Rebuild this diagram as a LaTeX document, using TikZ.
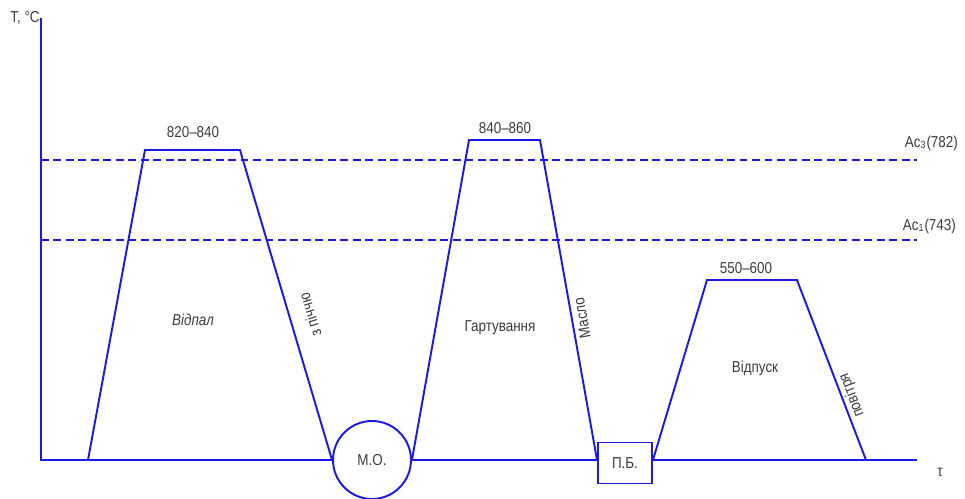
\documentclass[tikz,border=0pt]{standalone}
\usepackage{fontspec}
\setmainfont{Liberation Sans}[FakeStretch=0.85]
\usepackage{tikz}
\usetikzlibrary{positioning}
\definecolor{lineblue}{RGB}{25,25,235}
\definecolor{txtgray}{RGB}{60,60,60}
\tikzset{
	curve/.style={lineblue,line width=1.1pt},
	level/.style={lineblue,line width=1.1pt,dash pattern=on 4.5pt off 2.6pt},
	lbl/.style={txtgray,inner sep=1pt,font=\fontsize{9}{10}\selectfont},
	stage/.style={draw=lineblue,line width=1.1pt,fill=white,text=txtgray,font=\fontsize{9}{10}\selectfont}
}
\begin{document}
\begin{tikzpicture}[x=0.02cm,y=-0.02cm]
			\useasboundingbox (0,0) rectangle (965,499);
			\coordinate (o) at (41,460);
			\coordinate (ytop) at (41,18);
			\coordinate (xend) at (917,460);
			\coordinate (a1) at (88,460);
			\coordinate (a2) at (145,150);
			\coordinate (a3) at (240,150);
			\coordinate (b2) at (469,140);
			\coordinate (b3) at (540,140);
			\coordinate (c2) at (707,280);
			\coordinate (c3) at (797,280);
			\coordinate (c4) at (866,460);
			\node [stage,circle,minimum size=1.56cm,inner sep=0pt] (mo) at (372,460) {М.О.};
			\node [stage,rectangle,minimum width=1.08cm,minimum height=0.82cm,inner sep=0pt] (pb) at (625,463) {П.Б.};
			\coordinate (pbw) at (pb.west |- o);
			\coordinate (pbe) at (pb.east |- o);
			\draw [curve] (ytop)--(o)--(mo.west);
			\draw [curve] (mo.east)--(pbw);
			\draw [curve] (pbe)--(xend);
			\draw [level] (41,160)--(917,160);
			\draw [level] (41,240)--(917,240);
			\draw [curve] (a1)--(a2)--(a3)--(mo.west);
			\draw [curve] (mo.east)--(b2)--(b3)--(pbw);
			\draw [curve] (pbe)--(c2)--(c3)--(c4);
			\node [lbl] (tlbl) at (25,18) {Т, °С};
			\node [lbl] (taulbl) at (940,472) {τ};
			\node [lbl,anchor=east] (ac3) at (960,143) {Ac\textsubscript{3}(782)};
			\node [lbl,anchor=east] (ac1) at (958,226) {Ac\textsubscript{1}(743)};
			\node [lbl] (t1) at (193,132) {820--840};
			\node [lbl] (t2) at (505,128) {840--860};
			\node [lbl] (t3) at (746,268) {550--600};
			\node [lbl,font=\fontsize{9}{10}\selectfont\itshape] (anneal) at (193,320) {Відпал};
			\node [lbl] (quench) at (500,328) {Гартування};
			\node [lbl] (temper) at (755,368) {Відпуск};
			\node [lbl,rotate=107] (furnace) at (310,315) {з піччю};
			\node [lbl,rotate=100] (oil) at (582,318) {Масло};
			\node [lbl,rotate=111] (air) at (852,395) {повітря};
\end{tikzpicture}
\end{document}
